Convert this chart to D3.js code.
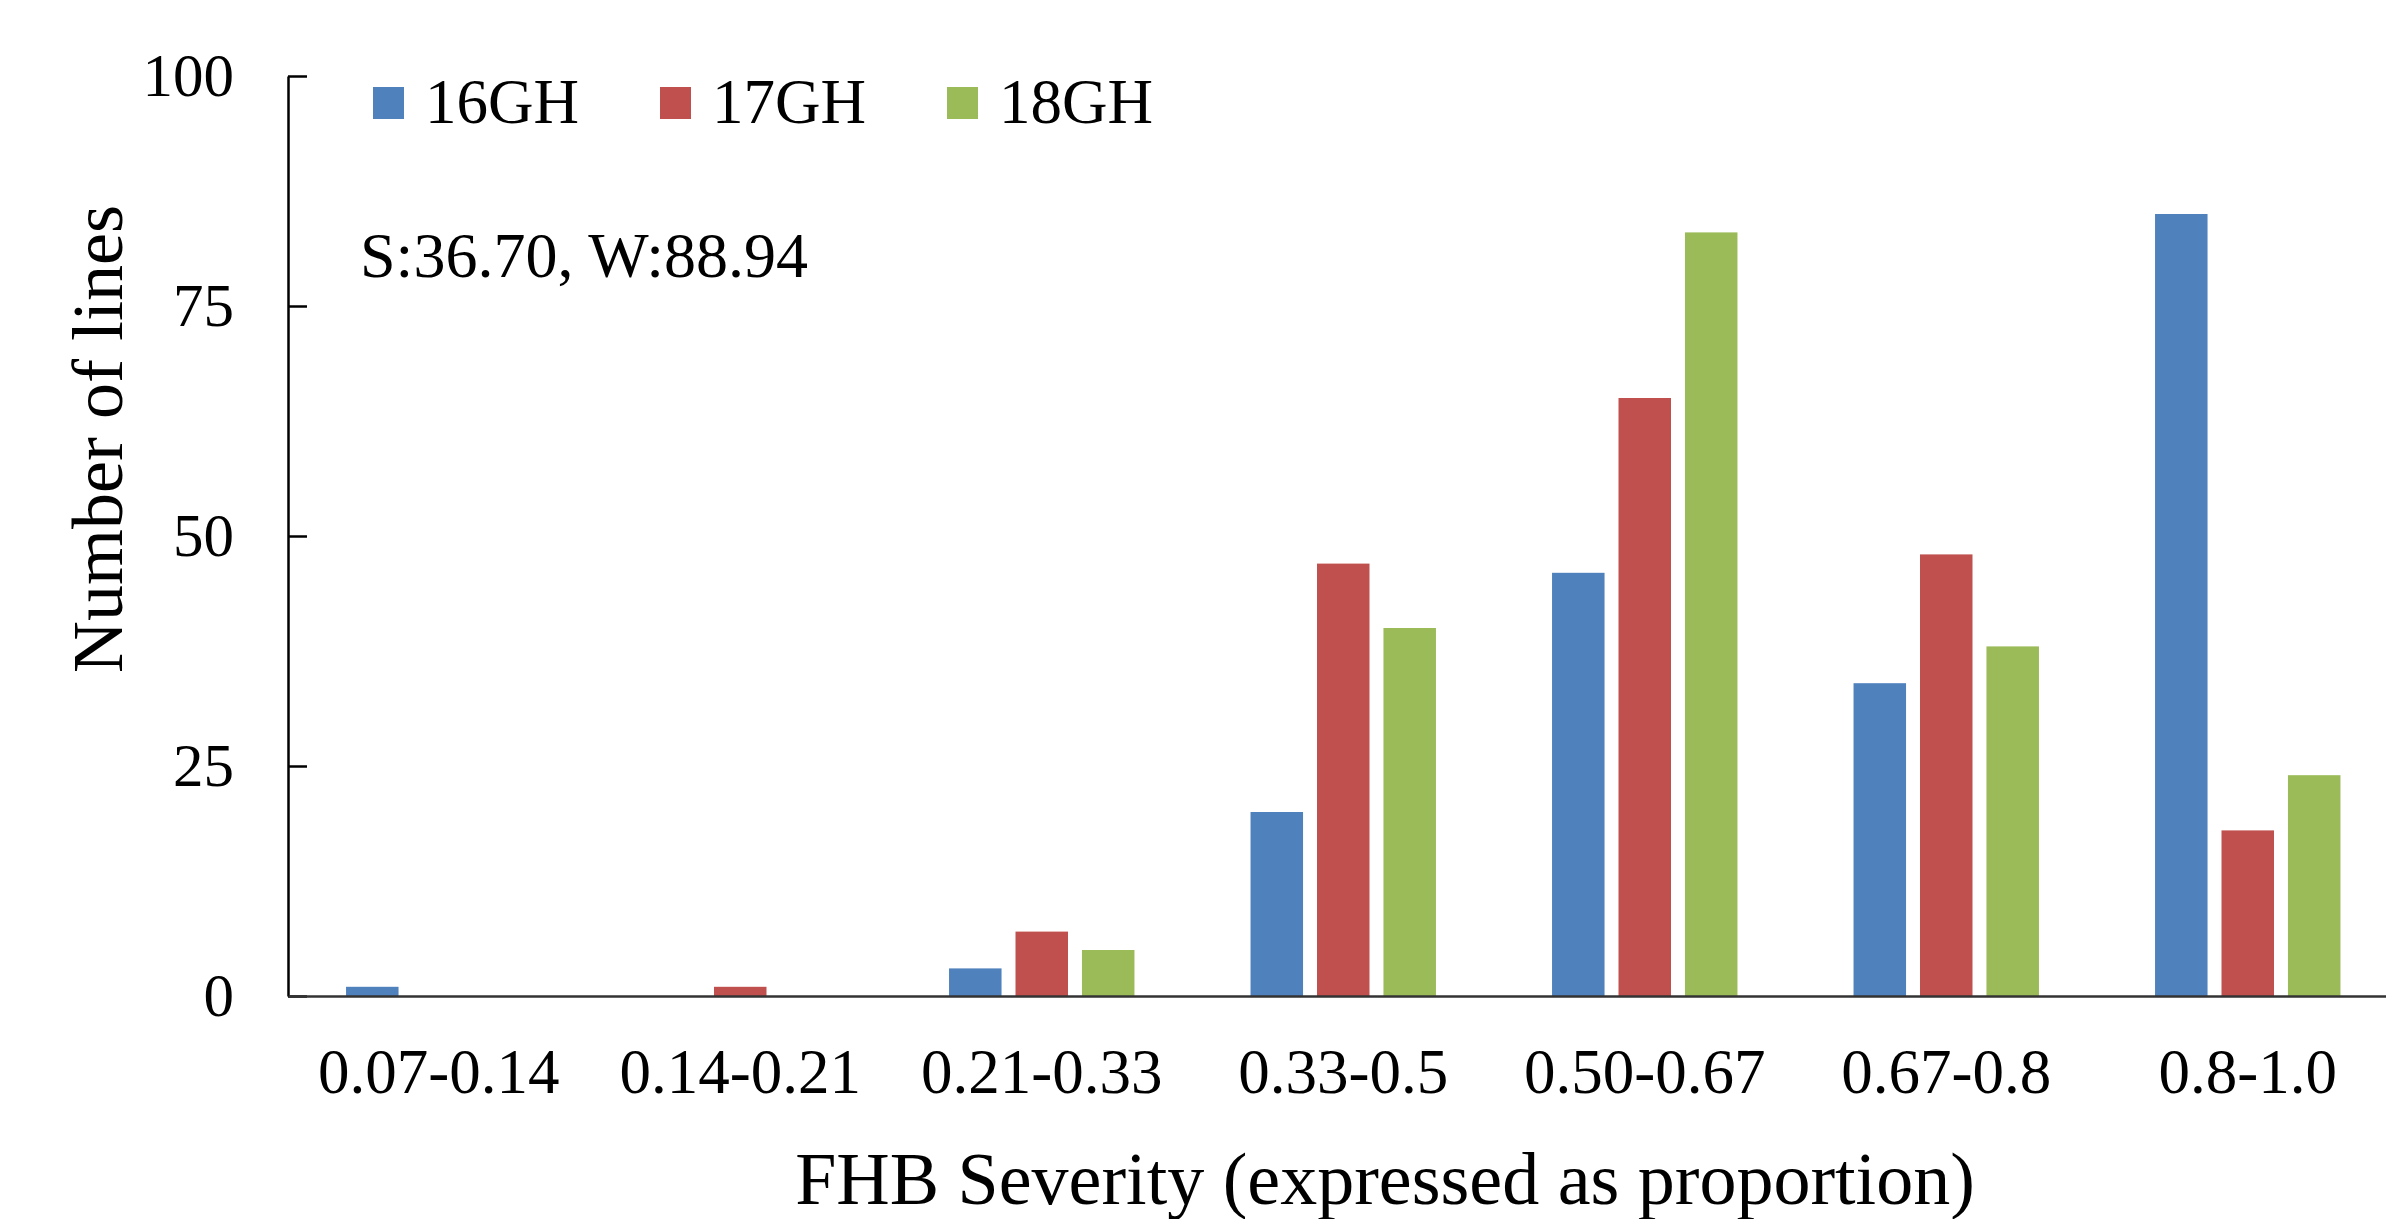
<!DOCTYPE html>
<html>
<head>
<meta charset="utf-8">
<script src="https://cdn.jsdelivr.net/npm/d3@7"></script>
<style>
  body { margin: 0; background: #fff; }
  svg { display: block; font-family: "Liberation Serif", "Times New Roman", serif; }
</style>
</head>
<body>
<svg id="chart" width="2386" height="1219"></svg>
<script>
// severity classes on the x axis
const categories = ["0.07-0.14", "0.14-0.21", "0.21-0.33", "0.33-0.5", "0.50-0.67", "0.67-0.8", "0.8-1.0"];
const seriesNames = ["16GH", "17GH", "18GH"];
// number of lines per class
const gh16 = [1, 0, 3, 20, 46, 34, 85];
const gh17 = [0, 1, 7, 47, 65, 48, 18];
const gh18 = [0, 0, 5, 40, 83, 38, 24];
const yTicks = [0, 25, 50, 75, 100];
const colors = ["#4F81BD", "#C0504D", "#9BBB59"];
const note = "S:36.70, W:88.94";

const seriesValues = [gh16, gh17, gh18];

const svg = d3.select("#chart");

// plot area (right edge runs past the picture, like the original)
const plotLeft = 288, plotRight = 2398.5, plotTop = 76, plotBottom = 996;

const y = d3.scaleLinear().domain([0, 100]).range([plotBottom, plotTop]);
const x0 = d3.scaleBand().domain(categories).range([plotLeft, plotRight])
    .paddingInner(0.385).paddingOuter(0.1925);
const x1 = d3.scaleBand().domain(seriesNames).range([0, x0.bandwidth()])
    .paddingInner(0.21);
const color = d3.scaleOrdinal().domain(seriesNames).range(colors);

// bars
const groups = svg.append("g").selectAll("g")
    .data(categories)
    .join("g")
    .attr("transform", d => "translate(" + x0(d) + ",0)");

groups.selectAll("rect")
    .data((c, i) => seriesNames.map((s, k) => ({ s: s, v: seriesValues[k][i] })).filter(d => d.v > 0))
    .join("rect")
    .attr("x", d => x1(d.s))
    .attr("y", d => y(d.v))
    .attr("width", x1.bandwidth())
    .attr("height", d => y(0) - y(d.v))
    .attr("fill", d => color(d.s));

// y axis, ticks pointing inwards
const yAxis = svg.append("g")
    .attr("transform", "translate(" + plotLeft + ",0)")
    .call(d3.axisLeft(y).tickValues(yTicks).tickSizeInner(-19).tickSizeOuter(0).tickPadding(54));
yAxis.select(".domain").attr("stroke", "#000").attr("stroke-width", 2.5);
yAxis.selectAll(".tick line").attr("stroke", "#000").attr("stroke-width", 2.5);
yAxis.selectAll("text")
    .attr("font-size", 61)
    .attr("font-family", "Liberation Serif")
    .attr("fill", "#000");

// x axis
const xAxis = svg.append("g")
    .attr("transform", "translate(0," + plotBottom + ")")
    .call(d3.axisBottom(x0).tickSize(0).tickPadding(52));
xAxis.select(".domain").attr("stroke", "#333").attr("stroke-width", 2.5);
xAxis.selectAll("text")
    .attr("font-size", 63)
    .attr("font-family", "Liberation Serif")
    .attr("fill", "#000");

// axis titles
svg.append("text")
    .attr("x", 1385)
    .attr("y", 1204)
    .attr("text-anchor", "middle")
    .attr("font-size", 74)
    .text("FHB Severity (expressed as proportion)");

svg.append("text")
    .attr("transform", "translate(122,439) rotate(-90)")
    .attr("text-anchor", "middle")
    .attr("font-size", 72)
    .text("Number of lines");

// legend
const legend = svg.append("g").attr("transform", "translate(373,87)");
const item = legend.selectAll("g")
    .data(seriesNames)
    .join("g")
    .attr("transform", (d, i) => "translate(" + i * 287 + ",0)");
item.append("rect")
    .attr("width", 31)
    .attr("height", 32)
    .attr("fill", d => color(d));
item.append("text")
    .attr("x", 52)
    .attr("y", 36)
    .attr("font-size", 63)
    .text(d => d);

// annotation
svg.append("text")
    .attr("x", 360)
    .attr("y", 277)
    .attr("font-size", 64)
    .text(note);
</script>
</body>
</html>
